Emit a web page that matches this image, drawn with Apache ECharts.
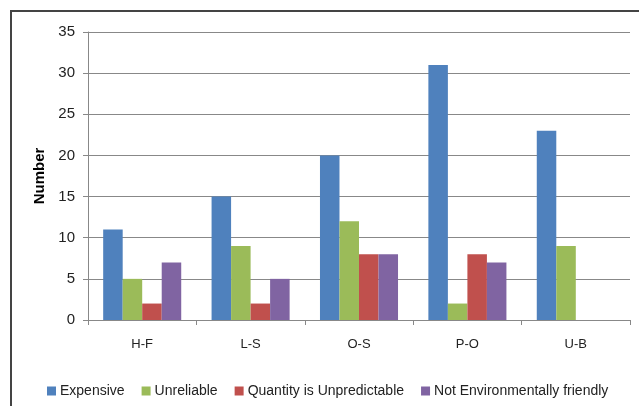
<!DOCTYPE html>
<html>
<head>
<meta charset="utf-8">
<script src="https://cdn.jsdelivr.net/npm/echarts@6/dist/echarts.min.js"></script>
<style>
  html, body { margin: 0; padding: 0; background: #fff; }
  #chart { width: 639px; height: 406px; }
</style>
</head>
<body>
<div id="chart"></div>
<script>
// data
var categories = ['H-F', 'L-S', 'O-S', 'P-O', 'U-B'];
var expensive = [11, 15, 20, 31, 23];
var unreliable = [5, 9, 12, 2, 9];
var unpredictable = [2, 2, 8, 8, 0];
var notFriendly = [7, 5, 8, 7, 0];
var seriesNames = ['Expensive', 'Unreliable', 'Quantity is Unpredictable', 'Not Environmentally friendly'];
var colors = ['#4F81BD', '#9BBB59', '#C0504D', '#8064A2'];

var chart = echarts.init(document.getElementById('chart'));

function bar(name, data, color) {
    return {
        name: name,
        type: 'bar',
        data: data,
        barGap: 0,
        barCategoryGap: '28%',
        itemStyle: { color: color },
        emphasis: { disabled: true }
    };
}

var option = {
    animation: false,
    textStyle: { fontFamily: 'Liberation Sans' },
    graphic: [{
        type: 'rect',
        shape: { x: 11, y: 11, width: 700, height: 500 },
        style: { fill: 'none', stroke: '#444', lineWidth: 2 }
    }],
    grid: { left: 88, right: 9, top: 32, bottom: 86 },
    legend: {
        data: seriesNames,
        left: 42,
        top: 379,
        itemWidth: 9,
        itemHeight: 9,
        itemGap: 17,
        icon: 'rect',
        textStyle: { fontSize: 14, color: '#222', padding: [0, 0, 0, -1] }
    },
    xAxis: {
        type: 'category',
        data: categories,
        axisLine: { lineStyle: { color: '#888' } },
        axisTick: { show: true, length: 5, lineStyle: { color: '#888' } },
        axisLabel: { color: '#222', fontSize: 13, margin: 18 }
    },
    yAxis: {
        type: 'value',
        min: 0,
        max: 35,
        interval: 5,
        name: 'Number',
        nameLocation: 'middle',
        nameGap: 38,
        nameTextStyle: { fontSize: 15, fontWeight: 'bold', color: '#000' },
        axisLine: { show: true, lineStyle: { color: '#888' } },
        axisTick: { show: true, length: 5, lineStyle: { color: '#888' } },
        axisLabel: { color: '#222', fontSize: 15, margin: 13 },
        splitLine: { lineStyle: { color: '#888' } }
    },
    series: [
        bar(seriesNames[0], expensive, colors[0]),
        bar(seriesNames[1], unreliable, colors[1]),
        bar(seriesNames[2], unpredictable, colors[2]),
        bar(seriesNames[3], notFriendly, colors[3])
    ]
};

chart.setOption(option);
</script>
</body>
</html>
